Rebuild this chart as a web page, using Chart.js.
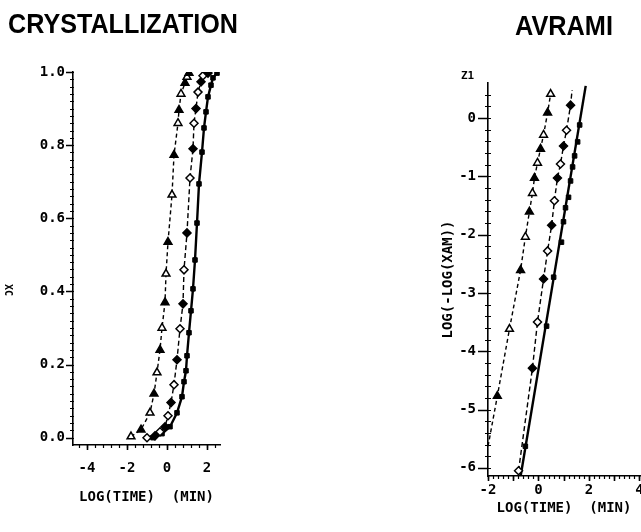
<!DOCTYPE html>
<html>
<head>
<meta charset="utf-8">
<script src="https://cdn.jsdelivr.net/npm/chart.js@4.4.0/dist/chart.umd.min.js"></script>
<style>
html, body { margin: 0; padding: 0; background: #fff; overflow: hidden; }
#wrap { position: relative; width: 641px; height: 532px; overflow: hidden; }
#left { position: absolute; left: 0; top: 0; }
#right { position: absolute; left: 320px; top: 0; }
</style>
</head>
<body>
<div id="wrap">
  <canvas id="left" width="320" height="532"></canvas>
  <canvas id="right" width="340" height="532"></canvas>
</div>
<script>
// ---- CRYSTALLIZATION panel: log(time) (min) vs Xc ----
const crystTriX = [-1.8, -1.3, -0.85, -0.65, -0.5, -0.35, -0.25, -0.1, -0.05, 0.05, 0.25, 0.35, 0.55, 0.6, 0.7, 0.9, 1.0, 1.1];
const crystTriY = [0.003, 0.022, 0.068, 0.12, 0.178, 0.24, 0.30, 0.37, 0.448, 0.535, 0.664, 0.773, 0.86, 0.896, 0.94, 0.97, 0.986, 0.997];

const crystDiaX = [-1.0, -0.6, -0.35, -0.1, 0.05, 0.2, 0.35, 0.5, 0.65, 0.8, 0.85, 1.0, 1.15, 1.3, 1.35, 1.45, 1.55, 1.7, 1.8, 2.05];
const crystDiaY = [0.0, 0.005, 0.016, 0.03, 0.06, 0.096, 0.145, 0.213, 0.298, 0.366, 0.459, 0.56, 0.71, 0.79, 0.86, 0.90, 0.945, 0.973, 0.99, 0.997];

const crystSqX = [-0.7, -0.25, 0.15, 0.5, 0.75, 0.85, 0.95, 1.0, 1.1, 1.2, 1.3, 1.4, 1.5, 1.6, 1.75, 1.85, 1.95, 2.05, 2.2, 2.3, 2.5];
const crystSqY = [0.0, 0.011, 0.03, 0.068, 0.112, 0.153, 0.183, 0.224, 0.287, 0.347, 0.407, 0.486, 0.587, 0.694, 0.781, 0.847, 0.891, 0.932, 0.964, 0.984, 0.997];

const crystXTicks = [-4, -2, 0, 2];
const crystYTicks = [0, 0.2, 0.4, 0.6, 0.8, 1.0];

// ---- AVRAMI panel: log(time) (min) vs log(-log(XAM)) ----
const avrTriX = [-2.2, -1.63, -1.15, -0.71, -0.52, -0.36, -0.24, -0.16, -0.04, 0.08, 0.2, 0.36, 0.48];
const avrTriY = [-6.1, -4.77, -3.62, -2.61, -2.04, -1.61, -1.29, -1.03, -0.77, -0.53, -0.29, 0.09, 0.41];

const avrDiaX = [-0.79, -0.24, -0.04, 0.2, 0.36, 0.52, 0.63, 0.75, 0.87, 0.99, 1.11, 1.27, 1.33];
const avrDiaY = [-6.05, -4.29, -3.5, -2.76, -2.28, -1.84, -1.42, -1.03, -0.79, -0.48, -0.21, 0.22, 0.48];

const avrSqX = [-0.52, 0.32, 0.6, 0.91, 0.99, 1.07, 1.19, 1.27, 1.35, 1.43, 1.55, 1.63];
const avrSqY = [-5.63, -3.57, -2.73, -2.13, -1.78, -1.54, -1.36, -1.08, -0.84, -0.65, -0.41, -0.12];

const avrFitX = [-0.73, 1.87];
const avrFitY = [-6.2, 0.55];

const avrXTicks = [-2, 0, 2, 4];
const avrYTicks = [0, -1, -2, -3, -4, -5, -6];

const MONO = 'DejaVu Sans Mono';

function pts(xs, ys) {
    return xs.map((x, i) => ({ x: x, y: ys[i] }));
}

function range(a, b, step) {
    const out = [];
    for (let v = a; v <= b + 1e-9; v += step) out.push(Math.round(v * 1000) / 1000);
    return out;
}

// alternate open / filled markers like the plotter output
const altFill = ctx => (ctx.dataIndex % 2 ? '#000' : '#fff');

// draws the plotter style tick marks (major + minor) along the axes
function tickMarks(specs) {
    return {
        id: 'tickMarks',
        afterDraw(chart) {
            const ctx = chart.ctx;
            const area = chart.chartArea;
            ctx.save();
            ctx.strokeStyle = '#000';
            specs.forEach(s => {
                const sc = chart.scales[s.axis];
                ctx.lineWidth = s.width;
                ctx.beginPath();
                s.values.forEach(v => {
                    const p = Math.round(sc.getPixelForValue(v)) + 0.5;
                    if (s.axis === 'y') {
                        ctx.moveTo(area.left - s.out, p);
                        ctx.lineTo(area.left + s.in, p);
                    } else {
                        ctx.moveTo(p, area.bottom - s.in);
                        ctx.lineTo(p, area.bottom + s.out);
                    }
                });
                ctx.stroke();
            });
            ctx.restore();
        }
    };
}

// free text (titles etc.), stretched to a given width when asked
function texts(items) {
    return {
        id: 'texts',
        afterDraw(chart) {
            const ctx = chart.ctx;
            items.forEach(t => {
                ctx.save();
                ctx.font = t.font;
                ctx.fillStyle = '#000';
                ctx.textBaseline = 'alphabetic';
                ctx.translate(t.x, t.y);
                if (t.rotate) ctx.rotate(t.rotate);
                if (t.width) {
                    const w = ctx.measureText(t.text).width;
                    ctx.scale(t.width / w, 1);
                }
                ctx.fillText(t.text, 0, 0);
                ctx.restore();
            });
        }
    };
}

const tickFont = { family: MONO, size: 14, weight: 'bold' };
const titleFont = { family: MONO, size: 14, weight: 'bold' };

// ---------------- left chart ----------------
new Chart(document.getElementById('left'), {
    type: 'scatter',
    data: {
        datasets: [
            {
                label: 'A',
                data: pts(crystTriX, crystTriY),
                showLine: true,
                borderColor: '#000',
                borderWidth: 1.4,
                borderDash: [4, 3],
                pointStyle: 'triangle',
                pointRadius: 4.5,
                pointBorderWidth: 1.5,
                pointBorderColor: '#000',
                pointBackgroundColor: altFill
            },
            {
                label: 'B',
                data: pts(crystDiaX, crystDiaY),
                showLine: true,
                borderColor: '#000',
                borderWidth: 1.4,
                borderDash: [5, 3],
                pointStyle: 'rectRot',
                pointRadius: 4,
                pointBorderWidth: 1.5,
                pointBorderColor: '#000',
                pointBackgroundColor: altFill
            },
            {
                label: 'C',
                data: pts(crystSqX, crystSqY),
                showLine: true,
                borderColor: '#000',
                borderWidth: 2.4,
                pointStyle: 'rect',
                pointRadius: 3.2,
                pointBorderWidth: 1,
                pointBorderColor: '#000',
                pointBackgroundColor: '#000'
            }
        ]
    },
    options: {
        responsive: false,
        animation: false,
        layout: { padding: { left: 0, top: 72, right: 100, bottom: 17 } },
        plugins: { legend: { display: false }, tooltip: { enabled: false } },
        scales: {
            x: {
                type: 'linear',
                min: -4.7,
                max: 2.65,
                afterFit(s) { s.height = 70; },
                afterBuildTicks(s) { s.ticks = crystXTicks.map(v => ({ value: v })); },
                grid: { display: false, drawTicks: false },
                border: { color: '#000', width: 1.6 },
                ticks: { autoSkip: false, maxRotation: 0, padding: 15, color: '#000', font: tickFont, callback: v => String(v) },
                title: { display: true, text: 'LOG(TIME)  (MIN)', color: '#000', font: titleFont, padding: { top: 0, bottom: 9 } }
            },
            y: {
                type: 'linear',
                min: -0.02,
                max: 1.0,
                afterFit(s) { s.width = 73; },
                afterBuildTicks(s) { s.ticks = crystYTicks.map(v => ({ value: v })); },
                grid: { display: false, drawTicks: false },
                border: { color: '#000', width: 1.6 },
                ticks: { autoSkip: false, padding: 8, color: '#000', font: tickFont, callback: v => v.toFixed(1) }
            }
        }
    },
    plugins: [
        tickMarks([
            { axis: 'y', values: range(0, 1, 0.02), out: 3, in: 1, width: 1.2 },
            { axis: 'y', values: crystYTicks, out: 7, in: 0, width: 1.6 },
            { axis: 'x', values: range(-4.4, 2.4, 0.4), out: 3, in: 0, width: 1.2 },
            { axis: 'x', values: crystXTicks, out: 5, in: 0, width: 1.6 }
        ]),
        texts([
            { text: 'CRYSTALLIZATION', x: 8, y: 33, font: 'bold 28px "Liberation Sans"', width: 230 },
            { text: 'XC', x: 5, y: 284, font: 'bold 10px ' + MONO, rotate: Math.PI / 2 }
        ])
    ]
});

// ---------------- right chart ----------------
new Chart(document.getElementById('right'), {
    type: 'scatter',
    data: {
        datasets: [
            {
                label: 'A',
                data: pts(avrTriX, avrTriY),
                showLine: true,
                borderColor: '#000',
                borderWidth: 1.4,
                borderDash: [4, 3],
                pointStyle: 'triangle',
                pointRadius: ctx => (ctx.dataIndex === 0 ? 0 : 4.5),
                pointBorderWidth: 1.5,
                pointBorderColor: '#000',
                pointBackgroundColor: altFill
            },
            {
                label: 'B',
                data: pts(avrDiaX, avrDiaY),
                showLine: true,
                borderColor: '#000',
                borderWidth: 1.4,
                borderDash: [5, 3],
                pointStyle: 'rectRot',
                pointRadius: ctx => (ctx.dataIndex === avrDiaX.length - 1 ? 0 : 4),
                pointBorderWidth: 1.5,
                pointBorderColor: '#000',
                pointBackgroundColor: altFill
            },
            {
                label: 'fit',
                data: pts(avrFitX, avrFitY),
                showLine: true,
                borderColor: '#000',
                borderWidth: 2.4,
                pointRadius: 0
            },
            {
                label: 'C',
                data: pts(avrSqX, avrSqY),
                showLine: false,
                pointStyle: 'rect',
                pointRadius: 3.2,
                pointBorderWidth: 1,
                pointBorderColor: '#000',
                pointBackgroundColor: '#000'
            }
        ]
    },
    options: {
        responsive: false,
        animation: false,
        layout: { padding: { left: 0, top: 83, right: 20, bottom: 0 } },
        plugins: { legend: { display: false }, tooltip: { enabled: false } },
        scales: {
            x: {
                type: 'linear',
                min: -2,
                max: 4.02,
                afterFit(s) { s.height = 56; },
                afterBuildTicks(s) { s.ticks = avrXTicks.map(v => ({ value: v })); },
                grid: { display: false, drawTicks: false },
                border: { color: '#000', width: 1.6 },
                ticks: { autoSkip: false, maxRotation: 0, padding: 6, color: '#000', font: tickFont, callback: v => String(v) },
                title: { display: true, text: 'LOG(TIME)  (MIN)', color: '#000', font: titleFont, padding: { top: 0, bottom: 15 } }
            },
            y: {
                type: 'linear',
                min: -6.14,
                max: 0.6,
                afterFit(s) { s.width = 168; },
                afterBuildTicks(s) { s.ticks = avrYTicks.map(v => ({ value: v })); },
                grid: { display: false, drawTicks: false },
                border: { color: '#000', width: 1.6 },
                ticks: { autoSkip: false, padding: 12, color: '#000', font: tickFont, callback: v => String(v) },
                title: { display: true, text: 'LOG(-LOG(XAM))', color: '#000', font: titleFont, padding: { top: 120, bottom: 0 } }
            }
        }
    },
    plugins: [
        tickMarks([
            { axis: 'y', values: range(-6, 0.4, 0.2), out: 3, in: 3, width: 1.2 },
            { axis: 'y', values: avrYTicks, out: 10, in: 0, width: 1.6 },
            { axis: 'x', values: range(-2, 4, 0.2), out: 3, in: 0, width: 1.2 },
            { axis: 'x', values: range(-2, 4, 1), out: 5, in: 0, width: 1.6 }
        ]),
        texts([
            { text: 'AVRAMI', x: 195, y: 35, font: 'bold 28px "Liberation Sans"', width: 98 },
            { text: 'Z1', x: 141, y: 79, font: 'bold 11px ' + MONO }
        ])
    ]
});
</script>
</body>
</html>
